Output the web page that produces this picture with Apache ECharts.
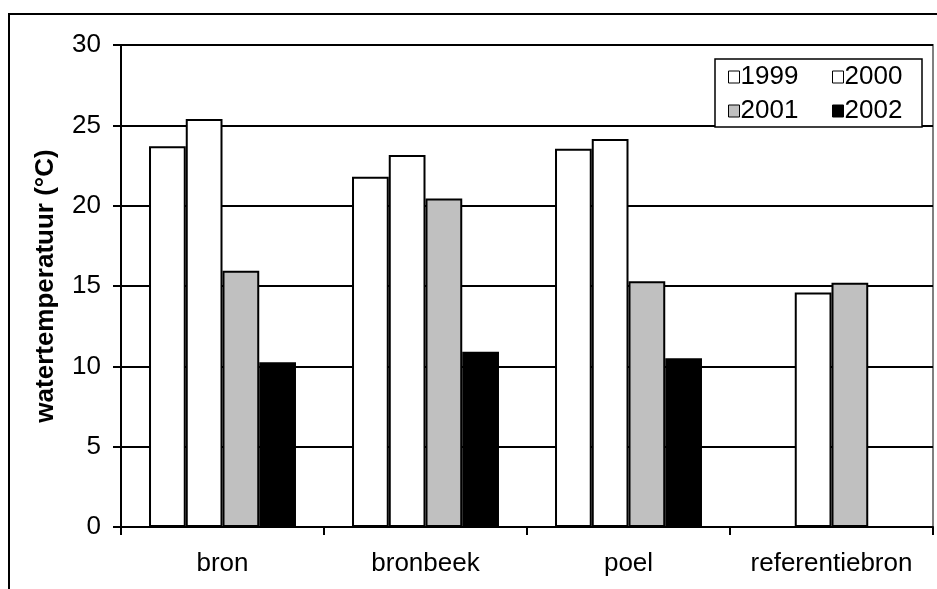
<!DOCTYPE html>
<html><head><meta charset="utf-8">
<script src="https://cdn.jsdelivr.net/npm/echarts@6/dist/echarts.min.js"></script>
<style>html,body{margin:0;padding:0;background:#fff}#c{width:937px;height:589px}</style>
</head><body><div id="c"></div>
<script>
const categories = ['bron', 'bronbeek', 'poel', 'referentiebron'];
const years = ['1999', '2000', '2001', '2002'];
const v1999 = [23.7, 21.8, 23.55, null];
const v2000 = [25.4, 23.15, 24.15, 14.6];
const v2001 = [15.95, 20.45, 15.3, 15.2];
const v2002 = [10.25, 10.9, 10.5, null];
const yTicks = [0, 5, 10, 15, 20, 25, 30];
const yName = 'watertemperatuur (°C)';

const seriesData = [v1999, v2000, v2001, v2002];
const fills = ['#ffffff', '#ffffff', '#c0c0c0', '#000000'];
const FONT = 'Liberation Sans, Arial, sans-serif';

const chart = echarts.init(document.getElementById('c'), null, {renderer: 'canvas'});
const legendPos = [[728, 64], [832, 64], [728, 98], [832, 98]];
chart.setOption({
  animation: false,
  backgroundColor: '#ffffff',
  grid: {left: 121, right: 4, top: 45, bottom: 62, show: true, borderColor: '#808080', borderWidth: 2, backgroundColor: 'transparent'},
  graphic: [
    {type: 'rect', z: 0, silent: true, shape: {x: 9, y: 14, width: 1000, height: 1000}, style: {fill: 'none', stroke: '#000', lineWidth: 2}},
    {type: 'rect', z: 50, silent: true, shape: {x: 715, y: 59, width: 207, height: 68}, style: {fill: '#fff', stroke: '#000', lineWidth: 1.5}}
  ],
  legend: years.map((y, i) => ({
    data: [{name: y, icon: 'rect'}], left: legendPos[i][0], top: legendPos[i][1], padding: 0, z: 60,
    itemWidth: 11, itemHeight: 12, itemGap: 0,
    textStyle: {fontFamily: FONT, fontSize: 26, color: '#000', padding: [0, 0, 0, -4]},
    itemStyle: {borderColor: '#000', borderWidth: 1}
  })),
  xAxis: {
    type: 'category', data: categories,
    axisLine: {lineStyle: {color: '#000', width: 2}},
    axisTick: {show: true, interval: 0, alignWithLabel: false, length: 8, lineStyle: {color: '#000', width: 2}},
    axisLabel: {interval: 0, hideOverlap: false, fontFamily: FONT, fontSize: 26, color: '#000', margin: 24},
    splitLine: {show: false}
  },
  yAxis: {
    type: 'value', min: yTicks[0], max: yTicks[yTicks.length - 1], interval: 5,
    name: yName, nameLocation: 'middle', nameRotate: 90, nameGap: 62,
    nameTextStyle: {fontFamily: FONT, fontSize: 26, fontWeight: 'bold', color: '#000'},
    axisLine: {show: true, lineStyle: {color: '#000', width: 2}},
    axisTick: {show: true, length: 8, lineStyle: {color: '#000', width: 2}},
    axisLabel: {fontFamily: FONT, fontSize: 26, color: '#000', margin: 20},
    splitLine: {show: true, lineStyle: {color: '#000', width: 2}}
  },
  series: years.map((y, i) => ({
    name: y, type: 'bar', data: seriesData[i],
    barGap: '0%', barCategoryGap: '27.6%',
    itemStyle: {color: fills[i], borderColor: '#000', borderWidth: 2}
  }))
});
</script></body></html>
